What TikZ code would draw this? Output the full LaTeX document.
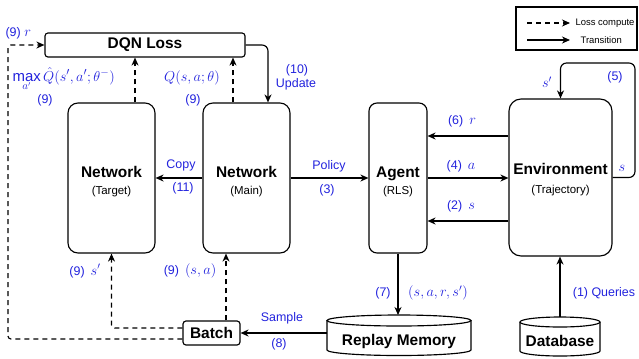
\documentclass[tikz,border=0pt]{standalone}
\usepackage{fontspec}
\setmainfont{Liberation Sans}
\usetikzlibrary{arrows.meta,calc}
\definecolor{lblue}{RGB}{34,34,221}
\newcommand\mth[1]{{\fontsize{14}{16}\selectfont$#1$}}
\newcommand\bigb{\fontsize{15.5}{18}\selectfont\bfseries}
\newcommand\subt{\fontsize{11.5}{14}\selectfont}
\begin{document}
\begin{tikzpicture}[x=1bp,y=-1bp, line width=1.15bp,
  trans/.style={-{Stealth[length=8bp,width=7bp,inset=2.5bp]}, rounded corners=6bp},
  lossline/.style={-{Stealth[length=8bp,width=7bp,inset=2.5bp]}, dash pattern=on 5bp off 4bp, rounded corners=3bp},
  netbox/.style={draw, rounded corners=10bp, inner sep=0pt},
  title/.style={font=\bigb, inner sep=0pt, anchor=base},
  sub/.style={font=\subt, inner sep=0pt, anchor=base},
  lbl/.style={text=lblue, font=\fontsize{12.5}{15}\selectfont, inner sep=0pt},
  legtext/.style={font=\fontsize{9.5}{11}\selectfont, inner sep=0pt}
]
\useasboundingbox (0,0) rectangle (639,358);

% main boxes
\node[draw, rounded corners=3bp, minimum width=200bp, minimum height=24bp, inner sep=0pt, font=\bigb] (loss) at (145,45) {DQN Loss};
\node[netbox, minimum width=87bp, minimum height=150bp] (target) at (111.5,178) {};
\node[title] (targetT) at (111.5,177.5) {Network};
\node[sub] (targetS) at (111.5,194) {(Target)};
\node[netbox, minimum width=87bp, minimum height=150bp] (main) at (246.5,178) {};
\node[title] (mainT) at (246.5,177.5) {Network};
\node[sub] (mainS) at (246.5,194) {(Main)};
\node[netbox, rounded corners=8bp, minimum width=58bp, minimum height=150bp] (agent) at (398,178) {};
\node[title] (agentT) at (398,177) {Agent};
\node[sub] (agentS) at (398,194) {(RLS)};
\node[netbox, rounded corners=12bp, minimum width=103bp, minimum height=157bp] (env) at (560.5,177.5) {};
\node[title] (envT) at (560.5,174.5) {Environment};
\node[sub] (envS) at (560.5,193) {(Trajectory)};
\node[draw, rounded corners=3bp, minimum width=57bp, minimum height=24bp, inner sep=0pt, font=\bigb] (batch) at (211.5,333) {Batch};

% cylinders
\draw (327,320.5) -- (327,350) arc[start angle=180, end angle=360, x radius=72bp, y radius=5.5bp] -- (471,320.5);
\draw (399,320.5) ellipse [x radius=72bp, y radius=5.5bp];
\node[title] (rm) at (399,345.5) {Replay Memory};
\coordinate (rmtop) at (399,315);
\coordinate (rmleft) at (327,333);

\draw (520,322) -- (520,351) arc[start angle=180, end angle=360, x radius=40bp, y radius=5bp] -- (600,322);
\draw (560,322) ellipse [x radius=40bp, y radius=5bp];
\node[title] (db) at (560,346) {Database};
\coordinate (dbtop) at (560,317);

% legend
\node[draw, minimum width=121bp, minimum height=43bp, inner sep=0pt] (legend) at (576.5,28.5) {};
\coordinate (l1a) at (527,23); \coordinate (l1b) at (570,23);
\coordinate (l2a) at (527,40); \coordinate (l2b) at (570,40);
\draw[lossline] (l1a) -- (l1b);
\draw[trans] (l2a) -- (l2b);
\node[legtext, anchor=west] (lt1) at (575,23) {Loss compute};
\node[legtext, anchor=west] (lt2) at (580,40) {Transition};

% loss connectors
\draw[lossline] ([xshift=23.5bp]target.north) -- ([xshift=23.5bp]target.north |- loss.south);
\draw[lossline] ([xshift=-13.5bp]main.north) -- ([xshift=-13.5bp]main.north |- loss.south);
\draw[lossline] ([xshift=14.5bp]batch.north) -- ([xshift=14.5bp]batch.north |- main.south);
\draw[lossline] ([yshift=5bp]batch.west) -| (target.south);
\coordinate (lcorner) at (8,45);
\draw[lossline] ([yshift=-6bp]batch.west) -| (lcorner) -- (loss.west);

% transitions
\draw[trans] (loss.east) -| ([xshift=21.5bp]main.north);
\draw[trans] (main.west) -- (target.east);
\draw[trans] (main.east) -- (agent.west);
\coordinate (yr) at (0,136);
\coordinate (ys) at (0,221);
\draw[trans] (env.west |- yr) -- (agent.east |- yr);
\draw[trans] (agent.east) -- (agent.east -| env.west);
\draw[trans] (env.west |- ys) -- (agent.east |- ys);
\coordinate (loopR) at (635,177.5);
\coordinate (loopT) at (560.5,63);
\draw[trans] (env.east) -- (loopR) |- (loopT) -- (env.north);
\draw[trans] (agent.south) -- (agent.south |- rmtop);
\draw[trans] (dbtop) -- (dbtop |- env.south);
\draw[trans] (rmleft) -- (batch.east);

% labels
\node[lbl, anchor=west] (l9r) at (5,33) {(9) \mth{r}};
\node[lbl, anchor=base west] (lmax) at (12,81) {{\fontsize{15}{17}\selectfont$\displaystyle\max_{a'}\hat{Q}(s',a';\theta^-)$}};
\node[lbl] (l9a) at (45,100) {(9)};
\node[lbl, anchor=base] (lq) at (192,81) {\mth{Q(s,a;\theta)}};
\node[lbl] (l9b) at (193,100) {(9)};
\node[lbl] (l10) at (297,70) {(10)};
\node[lbl] (lupd) at (296,84) {Update};
\node[lbl] (lcopy) at (181,165) {Copy};
\node[lbl] (l11) at (183,188) {(11)};
\node[lbl] (lpol) at (329,166) {Policy};
\node[lbl] (l3) at (327,190) {(3)};
\node[lbl] (l6) at (462,121) {(6)\hspace{6bp}\mth{r}};
\node[lbl] (l4) at (461,166) {(4)\hspace{6bp}\mth{a}};
\node[lbl] (l2) at (461,206) {(2)\hspace{6bp}\mth{s}};
\node[lbl] (lsp) at (547,82) {\mth{s'}};
\node[lbl] (l5) at (615,77) {(5)};
\node[lbl] (ls) at (622,168) {\mth{s}};
\node[lbl] (l9s) at (85,271) {(9)\hspace{6bp}\mth{s'}};
\node[lbl] (l9sa) at (190,271) {(9)\hspace{6bp}\mth{(s,a)}};
\node[lbl] (lsample) at (282,318) {Sample};
\node[lbl] (l8) at (279,344) {(8)};
\node[lbl] (l7) at (383,293) {(7)};
\node[lbl] (ltuple) at (438,293) {\mth{(s,a,r,s')}};
\node[lbl] (l1) at (604,293) {(1) Queries};
\end{tikzpicture}
\end{document}
